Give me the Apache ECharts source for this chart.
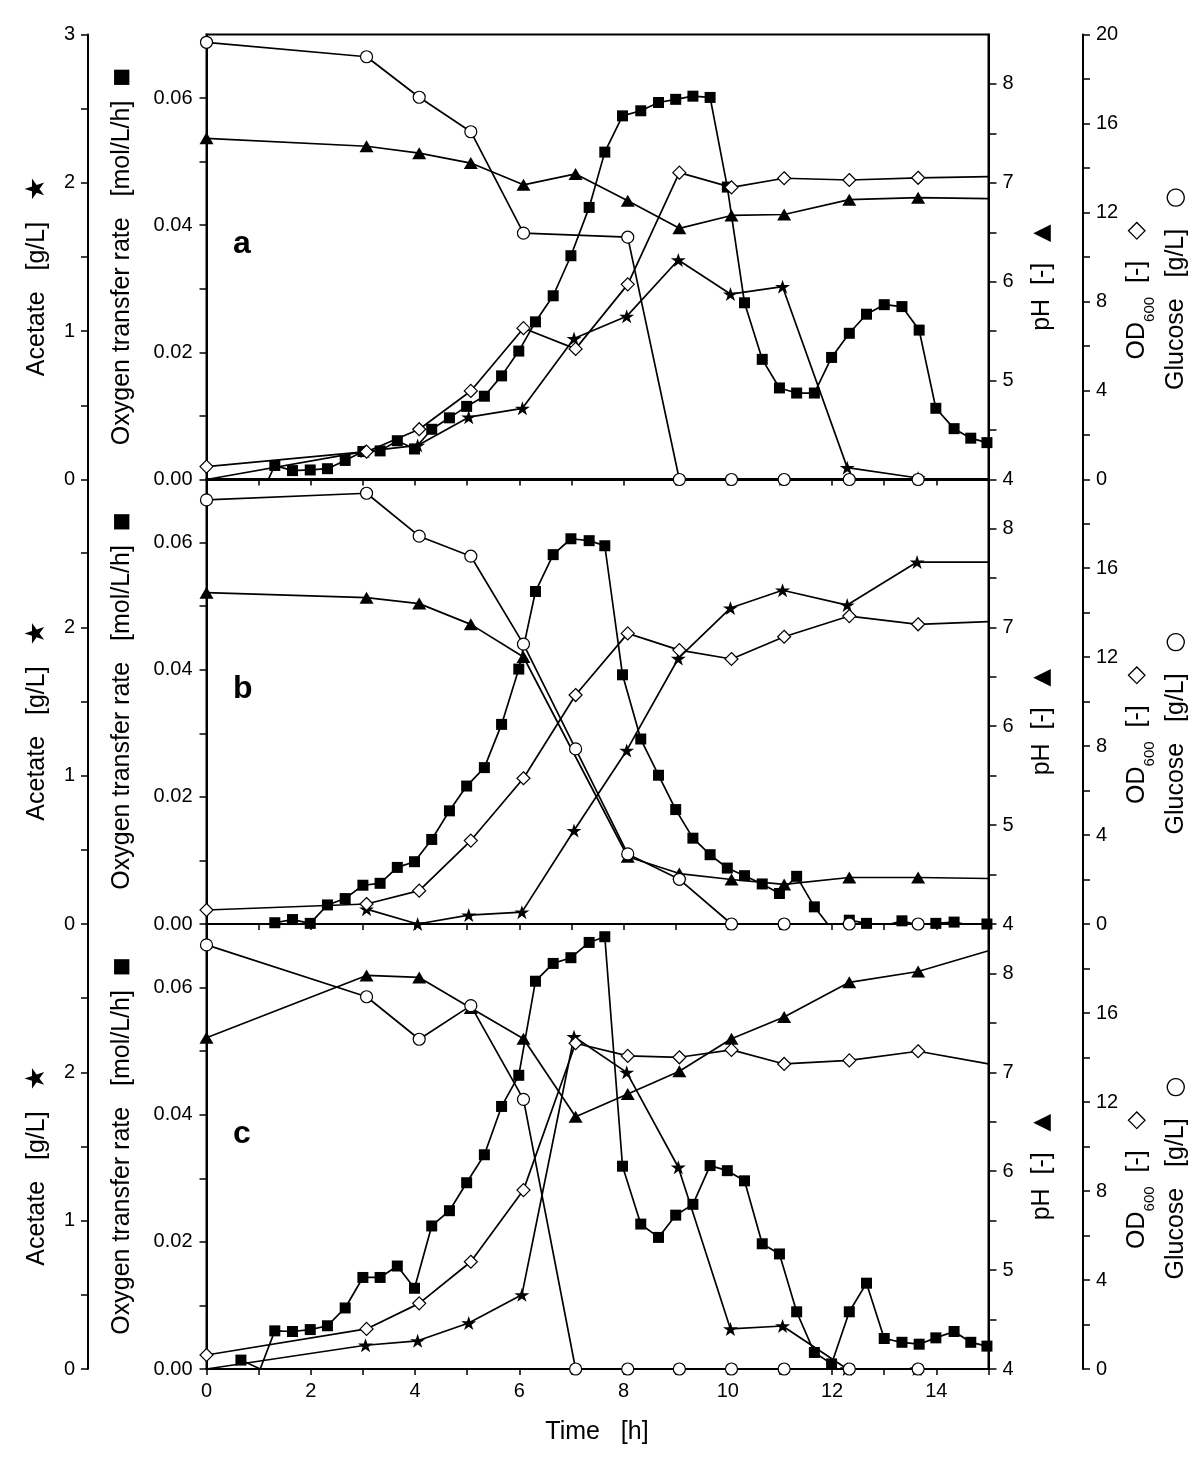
<!DOCTYPE html>
<html><head><meta charset="utf-8">
<script src="https://cdn.jsdelivr.net/npm/echarts/dist/echarts.min.js"></script>
<style>html,body{margin:0;padding:0;background:#fff}#c{width:1200px;height:1477px}</style>
</head><body><div id="c"></div>
<script>
// ---------------- DATA ----------------
const timeTicks = [0, 2, 4, 6, 8, 10, 12, 14];
const panelNames = ['a', 'b', 'c'];

// offline sample times [h]
const tA = [0, 3.07, 4.08, 5.07, 6.08, 7.08, 8.08, 9.07, 10.07, 11.08, 12.33, 13.65, 15];
const tGluA = [0, 3.07, 4.08, 5.07, 6.08, 8.08, 9.07, 10.07, 11.08, 12.33, 13.65];
const tAcA = [0, 3.04, 4.05, 5.03, 6.06, 7.05, 8.06, 9.05, 10.05, 11.05, 12.29, 13.65];
const tPhB = [0, 3.07, 4.08, 5.07, 6.08, 8.08, 9.07, 10.07, 11.08, 12.33, 13.65, 15];
const tGluB = [0, 3.07, 4.08, 5.07, 6.08, 7.08, 8.08, 9.07, 10.07, 11.08, 12.33, 13.65];
const tAcB = [3.07, 4.05, 5.03, 6.05, 7.05, 8.06, 9.05, 10.05, 11.05, 12.29, 13.63, 15];
const tAcC = [0, 3.05, 4.05, 5.03, 6.05, 7.05, 8.06, 9.05, 10.05, 11.05, 12.29, 13.63];

// OTR online time [h]
const otrTime = [1.31, 1.65, 1.99, 2.32, 2.66, 3.0, 3.33, 3.66, 3.99, 4.32, 4.66, 4.99, 5.33, 5.66, 5.99,
  6.31, 6.65, 6.99, 7.34, 7.64, 7.98, 8.33, 8.67, 9.0, 9.33, 9.66, 9.99, 10.32, 10.66, 10.99, 11.32,
  11.66, 11.99, 12.33, 12.66, 13.0, 13.34, 13.67, 13.99, 14.34, 14.66, 14.97];
const otrStartA = [[1.1, -0.0015]];
const otrStartB = [];
const otrStartC = [[0.66, 0.0014], [1.03, 0]];

// Panel a
const glucoseA = [19.65, 19.0, 17.18, 15.63, 11.07, 10.89, 0, 0, 0, 0, 0];
const phA = [7.45, 7.37, 7.30, 7.20, 6.98, 7.09, 6.82, 6.54, 6.67, 6.68, 6.83, 6.85, 6.84];
const odA = [0.58, 1.25, 2.26, 3.98, 6.80, 5.87, 8.77, 13.79, 13.13, 13.54, 13.46, 13.56, 13.61];
const acetateA = [0, 0.19, 0.23, 0.42, 0.48, 0.95, 1.10, 1.48, 1.25, 1.30, 0.08, 0.01];
const otrA = [0.0022, 0.0014, 0.0015, 0.0017, 0.0030, 0.0044, 0.0045, 0.0061, 0.0048, 0.0079, 0.0097,
  0.0115, 0.0131, 0.0163, 0.0202, 0.0248, 0.0289, 0.0352, 0.0428, 0.0515, 0.0572, 0.0580, 0.0593,
  0.0598, 0.0603, 0.0601, 0.0460, 0.0278, 0.0189, 0.0144, 0.0136, 0.0136, 0.0192, 0.0230, 0.0260,
  0.0275, 0.0272, 0.0235, 0.0112, 0.0080, 0.0065, 0.0058];

// Panel b
const glucoseB = [19.06, 19.36, 17.43, 16.53, 12.58, 7.87, 3.15, 2.01, 0, 0, 0, 0];
const phB = [7.35, 7.30, 7.24, 7.03, 6.70, 4.68, 4.51, 4.45, 4.40, 4.47, 4.47, 4.46];
const odB = [0.63, 0.90, 1.50, 3.75, 6.55, 10.29, 13.06, 12.31, 11.91, 12.91, 13.84, 13.47, 13.59];
const acetateB = [0.10, 0, 0.06, 0.08, 0.63, 1.17, 1.79, 2.13, 2.25, 2.15, 2.44, 2.44];
const otrB = [0.0002, 0.0007, 0.0001, 0.0030, 0.0040, 0.0061, 0.0064, 0.0089, 0.0098, 0.0133, 0.0178,
  0.0217, 0.0246, 0.0314, 0.0401, 0.0523, 0.0581, 0.0606, 0.0603, 0.0595, 0.0392, 0.0291, 0.0234,
  0.0180, 0.0135, 0.0109, 0.0088, 0.0076, 0.0063, 0.0048, 0.0075, 0.0027, -0.0008, 0.0006, 0.0001,
  -0.0003, 0.0005, -0.0002, 0.0001, 0.0003, -0.0002, 0.0];

// Panel c
const glucoseC = [19.06, 16.73, 14.82, 16.33, 12.12, 0, 0, 0, 0, 0, 0, 0];
const phC = [7.35, 7.98, 7.96, 7.65, 7.34, 6.55, 6.78, 7.01, 7.34, 7.56, 7.91, 8.02, 8.23];
const odC = [0.63, 1.80, 2.95, 4.82, 8.04, 14.64, 14.07, 14.01, 14.34, 13.71, 13.87, 14.28, 13.71];
const acetateC = [0, 0.16, 0.19, 0.31, 0.50, 2.24, 2.00, 1.36, 0.27, 0.29, 0, 0];
const otrC = [0.0060, 0.0059, 0.0062, 0.0068, 0.0096, 0.0144, 0.0144, 0.0162, 0.0127, 0.0225, 0.0249,
  0.0293, 0.0337, 0.0413, 0.0462, 0.0610, 0.0638, 0.0647, 0.0671, 0.0680, 0.0319, 0.0228, 0.0207,
  0.0242, 0.0259, 0.0320, 0.0312, 0.0296, 0.0197, 0.0181, 0.0090, 0.0026, 0.0008, 0.0090, 0.0135,
  0.0048, 0.0042, 0.0039, 0.0049, 0.0059, 0.0042, 0.0036];

// ---------------- CHART ----------------
const FONT = "'Liberation Sans', Arial, 'DejaVu Sans', sans-serif";
const STAR = 'path://M50,0 L61.23,34.55 L97.55,34.55 L68.17,55.9 L79.39,90.45 L50,69.1 L20.61,90.45 L31.83,55.9 L2.45,34.55 L38.77,34.55 Z';

const panelTops = [34.5, 479, 924];
const panelH = 445;

function zip(ts, vs, noMark) {
  return ts.map((t, i) => (noMark && noMark(t, i)) ? { value: [t, vs[i]], symbol: 'none' } : [t, vs[i]]);
}
const endNoMark = (t) => t >= 15;

const panels = [
  { glu: zip(tGluA, glucoseA), ph: zip(tA, phA, endNoMark), od: zip(tA, odA, endNoMark),
    ac: zip(tAcA, acetateA, (t, i) => i === 0),
    otr: otrStartA.map(p => ({ value: p, symbol: 'none' })).concat(zip(otrTime, otrA)) },
  { glu: zip(tGluB, glucoseB), ph: zip(tPhB, phB, endNoMark), od: zip(tA, odB, endNoMark),
    ac: zip(tAcB, acetateB, endNoMark),
    otr: otrStartB.map(p => ({ value: p, symbol: 'none' })).concat(zip(otrTime, otrB)) },
  { glu: zip(tGluB, glucoseC), ph: zip(tA, phC, endNoMark), od: zip(tA, odC, endNoMark),
    ac: zip(tAcC, acetateC, (t, i) => i === 0),
    otr: [{ value: otrStartC[0] }, { value: otrStartC[1], symbol: 'none' }].concat(zip(otrTime, otrC)) }
];

const grids = [], xAxes = [], yAxes = [], series = [];
const lineStyle = { color: '#000', width: 1.7 };

function yAx(g, pos, offset, min, max, interval, fmt, tickLen, margin, showMax) {
  return {
    type: 'value', gridIndex: g, position: pos, offset: offset, min: min, max: max, interval: interval,
    axisLine: { show: true, onZero: false, lineStyle: { color: '#000', width: 2 } },
    axisTick: { show: true, inside: false, length: tickLen, lineStyle: { color: '#000', width: 1.5 } },
    axisLabel: { show: true, formatter: fmt, color: '#000', fontSize: 20, fontFamily: FONT, margin: margin,
      showMinLabel: true, showMaxLabel: showMax },
    splitLine: { show: false }, minorTick: { show: false }
  };
}
const fmtOtr = v => { const k = Math.round(v * 100); return (k % 2 === 0 && k <= 6) ? (k / 100).toFixed(2) : ''; };
const fmtInt = v => Math.abs(v - Math.round(v)) < 1e-6 ? String(Math.round(v)) : '';
const fmtOd = v => Math.round(v) % 4 === 0 ? String(Math.round(v)) : '';
const fmtX = v => (Math.round(v) % 2 === 0 && timeTicks.indexOf(Math.round(v)) >= 0) ? String(Math.round(v)) : '';

panelTops.forEach((T, p) => {
  grids.push({ left: 206.5, right: 211.5, top: T, height: panelH, show: true,
    borderColor: '#000', borderWidth: 2, backgroundColor: 'transparent', containLabel: false, outerBoundsMode: 'none' });
  xAxes.push({
    type: 'value', gridIndex: p, min: 0, max: 15, interval: 1, position: 'bottom',
    axisLine: { show: true, onZero: false, lineStyle: { color: '#000', width: 2 } },
    axisTick: { show: true, inside: false, length: 6, lineStyle: { color: '#000', width: 1.5 } },
    axisLabel: { show: p === 2, formatter: fmtX, color: '#000', fontSize: 20, fontFamily: FONT, margin: 12 },
    splitLine: { show: false }
  });
  const b = p * 4;
  const top = p === 0;
  yAxes.push(yAx(p, 'left', 0, 0, 0.07, 0.01, fmtOtr, 7, 14, false));
  yAxes.push(yAx(p, 'left', 118.5, 0, 3, 0.5, fmtInt, 7, 13, top));
  yAxes.push(yAx(p, 'right', 0, 4, 8.5, 0.5, fmtInt, 8, 14, false));
  yAxes.push(yAx(p, 'right', 94.5, 0, 20, 2, fmtOd, 7, 13, top));
  const d = panels[p];
  const common = { type: 'line', xAxisIndex: p, showAllSymbol: true, clip: true, lineStyle: lineStyle,
    animation: false, silent: true, z: 3 };
  series.push(Object.assign({}, common, { name: 'OTR' + p, yAxisIndex: b, data: d.otr, symbol: 'rect', symbolSize: 11,
    itemStyle: { color: '#000' } }));
  series.push(Object.assign({}, common, { name: 'Ac' + p, yAxisIndex: b + 1, data: d.ac, symbol: STAR, symbolSize: [15, 14],
    itemStyle: { color: '#000' } }));
  series.push(Object.assign({}, common, { name: 'pH' + p, yAxisIndex: b + 2, data: d.ph, symbol: 'triangle', symbolSize: [14, 12],
    itemStyle: { color: '#000' } }));
  series.push(Object.assign({}, common, { name: 'OD' + p, yAxisIndex: b + 3, data: d.od, symbol: 'diamond', symbolSize: [13, 13],
    itemStyle: { color: '#fff', borderColor: '#000', borderWidth: 1.2 } }));
  series.push(Object.assign({}, common, { name: 'Glu' + p, yAxisIndex: b + 3, data: d.glu, symbol: 'circle', symbolSize: 12,
    itemStyle: { color: '#fff', borderColor: '#000', borderWidth: 1.2 } }));
});

// axis titles (rotated text)
const DJ = "'DejaVu Sans', sans-serif";
const rich = {
  m: { fontSize: 25, fontFamily: FONT, fill: '#000', lineHeight: 40 },
  s: { fontSize: 15, fontFamily: FONT, fill: '#000', lineHeight: 15, verticalAlign: 'bottom' },
  y: { fontSize: 27, fontFamily: DJ, fill: '#000', lineHeight: 40 },
  q: { fontSize: 24, fontFamily: DJ, fill: '#000', lineHeight: 40 },
  o: { fontSize: 24, fontFamily: DJ, fill: '#000', lineHeight: 40 },
  sq: { fontSize: 20, fontFamily: DJ, fill: '#000', lineHeight: 40 },
  tr: { fontSize: 23, fontFamily: DJ, fill: '#000', lineHeight: 40 }
};
function vtext(x, y, text) {
  return { type: 'text', x: x, y: y, rotation: Math.PI / 2, silent: true,
    style: { text: text, rich: rich, fill: '#000', fontSize: 25, fontFamily: FONT,
      align: 'center', verticalAlign: 'middle', textAlign: 'center', textVerticalAlign: 'middle' } };
}
const graphics = [];
panelTops.forEach((T, p) => {
  graphics.push(vtext(37, T + 242, '{m|Acetate   [g/L]   }{y|★}'));
  graphics.push(vtext(122, T + 222, '{m|Oxygen transfer rate   [mol/L/h]  }{sq|■}'));
  graphics.push(vtext(1042, T + 243, '{m|pH  [-]   }{tr|▲}'));
  graphics.push(vtext(1137, T + 256, '{m|OD}{s|600}{m|  [-]   }{q|◇}'));
  graphics.push(vtext(1176, T + 254, '{m|Glucose   [g/L]   }{o|○}'));
  graphics.push({ type: 'text', x: 233, y: T + 210, silent: true,
    style: { text: panelNames[p], fill: '#000', fontSize: 32, fontWeight: 'bold', fontFamily: FONT,
      align: 'left', verticalAlign: 'middle', textAlign: 'left', textVerticalAlign: 'middle' } });
});
graphics.push({ type: 'text', x: 597, y: 1432, silent: true,
  style: { text: 'Time   [h]', fill: '#000', fontSize: 25, fontFamily: FONT,
    align: 'center', verticalAlign: 'middle', textAlign: 'center', textVerticalAlign: 'middle' } });

const chart = echarts.init(document.getElementById('c'), null, { renderer: 'canvas' });
chart.setOption({
  backgroundColor: '#fff',
  animation: false,
  grid: grids,
  xAxis: xAxes,
  yAxis: yAxes,
  series: series,
  graphic: graphics
});
</script></body></html>
